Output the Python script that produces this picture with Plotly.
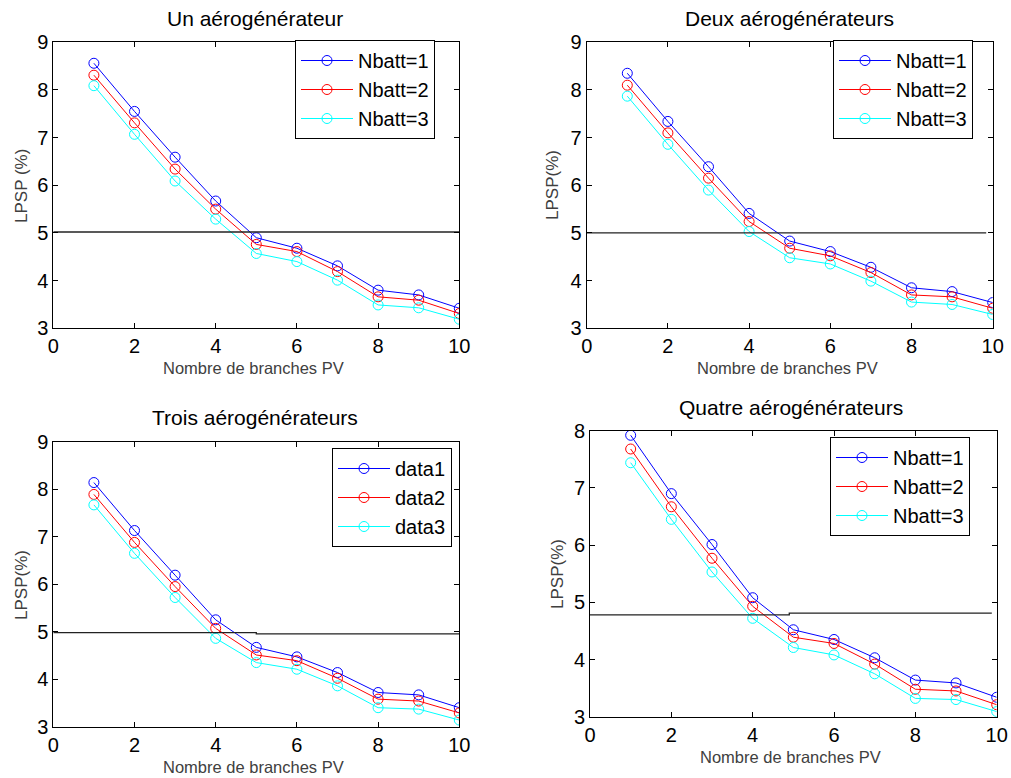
import plotly.graph_objects as go

# Nombre de branches PV
branches = [1, 2, 3, 4, 5, 6, 7, 8, 9, 10]

# LPSP (%) - un aérogénérateur
un_nb1 = [8.56, 7.55, 6.59, 5.67, 4.90, 4.68, 4.31, 3.80, 3.70, 3.42]
un_nb2 = [8.31, 7.31, 6.34, 5.50, 4.76, 4.61, 4.19, 3.66, 3.59, 3.31]
un_nb3 = [8.09, 7.07, 6.09, 5.29, 4.57, 4.40, 4.01, 3.49, 3.43, 3.19]

# LPSP (%) - deux aérogénérateurs
deux_nb1 = [8.35, 7.34, 6.39, 5.41, 4.83, 4.61, 4.28, 3.85, 3.77, 3.54]
deux_nb2 = [8.10, 7.10, 6.15, 5.24, 4.68, 4.52, 4.17, 3.70, 3.66, 3.42]
deux_nb3 = [7.87, 6.86, 5.90, 5.03, 4.48, 4.35, 3.99, 3.55, 3.50, 3.29]

# LPSP (%) - trois aérogénérateurs
trois_nb1 = [8.14, 7.13, 6.19, 5.25, 4.67, 4.47, 4.14, 3.72, 3.67, 3.40]
trois_nb2 = [7.89, 6.88, 5.95, 5.07, 4.51, 4.39, 4.02, 3.58, 3.54, 3.29]
trois_nb3 = [7.67, 6.65, 5.72, 4.86, 4.35, 4.21, 3.86, 3.40, 3.37, 3.14]

# LPSP (%) - quatre aérogénérateurs
quatre_nb1 = [7.92, 6.90, 6.01, 5.08, 4.52, 4.35, 4.03, 3.64, 3.59, 3.34]
quatre_nb2 = [7.68, 6.67, 5.77, 4.93, 4.39, 4.28, 3.92, 3.48, 3.45, 3.21]
quatre_nb3 = [7.44, 6.45, 5.53, 4.72, 4.21, 4.08, 3.75, 3.32, 3.30, 3.09]

# Seuil LPSP tracé dans chaque graphe
seuil_x = [[0, 10], [0, 9.84], [0, 5, 5, 10], [0, 4.9, 4.9, 9.88]]
seuil_y = [[5.02, 5.02], [5.0, 5.0], [4.98, 4.98, 4.955, 4.955], [4.78, 4.78, 4.81, 4.81]]

titles = ["Un aérogénérateur", "Deux aérogénérateurs",
          "Trois aérogénérateurs", "Quatre aérogénérateurs"]
ylabels = ["LPSP (%)", "LPSP(%)", "LPSP(%)", "LPSP(%)"]
xlabel = "Nombre de branches PV"
noms = [["Nbatt=1", "Nbatt=2", "Nbatt=3"],
        ["Nbatt=1", "Nbatt=2", "Nbatt=3"],
        ["data1", "data2", "data3"],
        ["Nbatt=1", "Nbatt=2", "Nbatt=3"]]
series = [[un_nb1, un_nb2, un_nb3],
          [deux_nb1, deux_nb2, deux_nb3],
          [trois_nb1, trois_nb2, trois_nb3],
          [quatre_nb1, quatre_nb2, quatre_nb3]]
yranges = [[3, 9], [3, 9], [3, 9], [3, 8]]
xticks = [0, 2, 4, 6, 8, 10]

couleurs = ["#0000FF", "#FF0000", "#00FFFF"]

W, H = 1011, 778
# plot boxes in pixels: left, right, top, bottom
boxes = [(53.3, 459.3, 42.3, 328.3),
         (586.7, 992.7, 42.3, 328.3),
         (53.3, 459.3, 441.7, 726.7),
         (590.0, 996.7, 430.7, 716.7)]
# legend top-right corners (px)
leg_pos = [(435, 40), (973, 40), (452, 448), (970, 437)]
# title centre, x-label centre, y-label centre (px)
title_pos = [(255, 18), (789, 18), (255, 417), (791, 407)]
xlab_pos = [(253, 368), (787, 368), (253, 767), (790, 757)]
ylab_pos = [(21, 186), (553, 185), (21, 585), (557, 574)]

FONT = "Liberation Sans, Arial, sans-serif"

fig = go.Figure()
layout = dict(
    width=W, height=H,
    margin=dict(l=0, r=0, t=0, b=0, autoexpand=False),
    paper_bgcolor="white", plot_bgcolor="white",
    font=dict(family=FONT, color="black"),
    annotations=[],
)

for i in range(4):
    k = "" if i == 0 else str(i + 1)
    xa, ya = "x" + k, "y" + k
    leg = "legend" + k
    for j in range(3):
        fig.add_trace(go.Scatter(
            x=branches, y=series[i][j], name=noms[i][j],
            mode="lines+markers",
            line=dict(color=couleurs[j], width=1),
            marker=dict(symbol="circle-open", size=10,
                        color=couleurs[j], line=dict(width=1)),
            xaxis=xa, yaxis=ya, legend=leg,
        ))
    fig.add_trace(go.Scatter(
        x=seuil_x[i], y=seuil_y[i], mode="lines",
        line=dict(color="#222222", width=1.3),
        showlegend=False, xaxis=xa, yaxis=ya,
    ))

    l, r, t, b = boxes[i]
    axis_common = dict(
        showline=True, linecolor="black", linewidth=1, mirror="ticks",
        ticks="inside", ticklen=5, tickcolor="black",
        showgrid=False, zeroline=False, automargin=False,
        tickfont=dict(size=20, family=FONT, color="black"),
    )
    layout["xaxis" + k] = dict(
        axis_common, domain=[l / W, r / W], range=[0, 10],
        tickvals=xticks, anchor=ya,
    )
    layout["yaxis" + k] = dict(
        axis_common, domain=[1 - b / H, 1 - t / H], range=yranges[i],
        dtick=1, anchor=xa,
    )
    lx, ly = leg_pos[i]
    layout[leg] = dict(
        x=lx / W, y=1 - ly / H, xanchor="right", yanchor="top",
        xref="paper", yref="paper",
        bgcolor="white", bordercolor="black", borderwidth=1,
        font=dict(size=20, family=FONT, color="black"),
        tracegroupgap=0, itemwidth=52,
    )

    tx, ty = title_pos[i]
    layout["annotations"].append(dict(
        text=titles[i], x=tx / W, y=1 - ty / H, xref="paper", yref="paper",
        showarrow=False, xanchor="center", yanchor="middle",
        font=dict(size=21, family=FONT, color="black"),
    ))
    xx, xy = xlab_pos[i]
    layout["annotations"].append(dict(
        text=xlabel, x=xx / W, y=1 - xy / H, xref="paper", yref="paper",
        showarrow=False, xanchor="center", yanchor="middle",
        font=dict(size=16.5, family=FONT, color="#404040"),
    ))
    yx, yy = ylab_pos[i]
    layout["annotations"].append(dict(
        text=ylabels[i], x=yx / W, y=1 - yy / H, xref="paper", yref="paper",
        showarrow=False, xanchor="center", yanchor="middle", textangle=-90,
        font=dict(size=17, family=FONT, color="#404040"),
    ))

fig.update_layout(**layout)
fig.write_html("out.html")
